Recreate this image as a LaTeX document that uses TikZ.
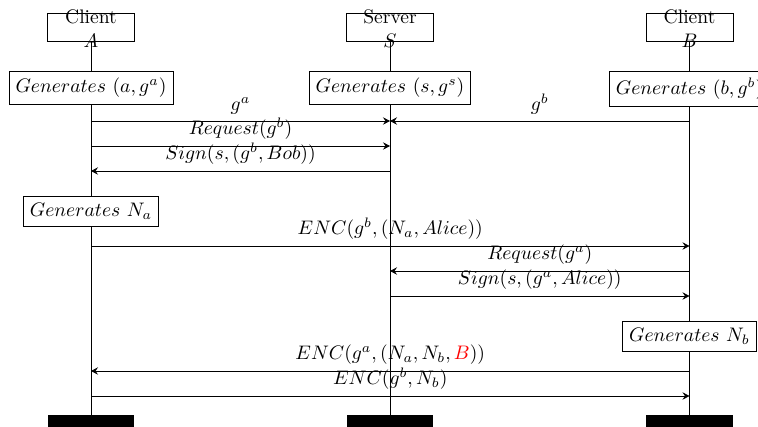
\documentclass[tikz,border=0pt]{standalone}
\usetikzlibrary{arrows.meta}
\begin{document}
\begin{tikzpicture}[x=0.5105pt,y=-0.5105pt,
  hdr/.style={draw,minimum width=44.4pt,minimum height=14.3pt,inner sep=0pt},
  hdrtxt/.style={align=center,inner sep=0pt},
  gen/.style={draw,fill=white,inner sep=3.33pt},
  bar/.style={fill=black,draw=none,minimum width=44.4pt,minimum height=8pt,inner sep=0pt,anchor=north},
  msg/.style={-{Stealth[length=3.6pt,width=3.8pt,inset=1.3pt]}},
  lbl/.style={midway,above}]
\useasboundingbox (0,0) rectangle (758,426);
% headers
\node[hdr] (hA) at (91,27) {};
\node[hdr] (hS) at (390,27) {};
\node[hdr] (hB) at (689.5,27) {};
% bars
\node[bar] (eA) at (91,415) {};
\node[bar] (eS) at (390,415) {};
\node[bar] (eB) at (689.5,415) {};
% lifelines
\draw (hA.south) -- (eA.north);
\draw (hS.south) -- (eS.north);
\draw (hB.south) -- (eB.north);
\node[hdrtxt] (tA) at (91,28.5) {Client\\$A$};
\node[hdrtxt] (tS) at (390,28.5) {Server\\$S$};
\node[hdrtxt] (tB) at (689.5,28.5) {Client\\$B$};
% generate boxes
\node[gen] (gA) at (91,88) {$Generates\ (a, g^a)$};
\node[gen] (gS) at (390,88) {$Generates\ (s, g^s)$};
\node[gen] (gB) at (689.5,89) {$Generates\ (b, g^b)$};
\node[gen] (nA) at (91,211.5) {$Generates\ N_a$};
\node[gen] (nB) at (689.5,336.5) {$Generates\ N_b$};
% message coordinates
\coordinate (a1) at (91,121);   \coordinate (s1) at (390,121);  \coordinate (b1) at (689.5,121);
\coordinate (a2) at (91,146);   \coordinate (s2) at (390,146);
\coordinate (a3) at (91,171);   \coordinate (s3) at (390,171);
\coordinate (a4) at (91,246);   \coordinate (b4) at (689.5,246);
\coordinate (s5) at (390,271);  \coordinate (b5) at (689.5,271);
\coordinate (s6) at (390,296);  \coordinate (b6) at (689.5,296);
\coordinate (a7) at (91,371);   \coordinate (b7) at (689.5,371);
\coordinate (a8) at (91,396);   \coordinate (b8) at (689.5,396);
% messages
\draw[msg] (a1) -- node[lbl] {$g^a$} (s1);
\draw[msg] (b1) -- node[lbl] {$g^b$} (s1);
\draw[msg] (a2) -- node[lbl] {$Request(g^b)$} (s2);
\draw[msg] (s3) -- node[lbl] {$Sign(s, (g^b, Bob))$} (a3);
\draw[msg] (a4) -- node[lbl] {$ENC(g^b, (N_a, Alice))$} (b4);
\draw[msg] (b5) -- node[lbl] {$Request(g^a)$} (s5);
\draw[msg] (s6) -- node[lbl] {$Sign(s, (g^a, Alice))$} (b6);
\draw[msg] (b7) -- node[lbl] {$ENC(g^a, (N_a, N_b, \textcolor{red}{B}))$} (a7);
\draw[msg] (a8) -- node[lbl] {$ENC(g^b, N_b)$} (b8);
\end{tikzpicture}
\end{document}
